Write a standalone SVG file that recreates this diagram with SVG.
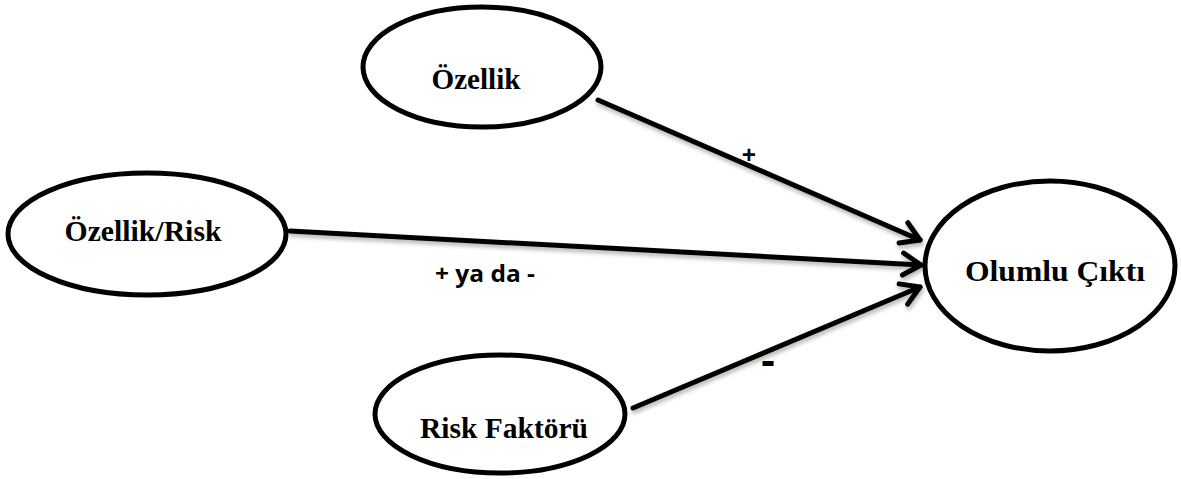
<svg xmlns="http://www.w3.org/2000/svg" width="1181" height="479" viewBox="0 0 1181 479">
<style>
.node ellipse{fill:#fff;stroke:#000;stroke-width:5}
.lbl{font-family:"Liberation Serif","Times New Roman",serif;font-weight:bold;font-size:29px;fill:#000;text-anchor:middle}
.edge{stroke:#000;stroke-width:5;fill:none;stroke-linecap:round}
.elbl{font-family:"Open Sans","Liberation Sans",sans-serif;font-weight:bold;fill:#000}
</style>
<defs>
<filter id="sh" x="-10%" y="-10%" width="130%" height="140%">
<feDropShadow dx="1" dy="3" stdDeviation="2" flood-color="#000" flood-opacity="0.3"/>
</filter>
<marker id="arr" markerUnits="userSpaceOnUse" markerWidth="30" markerHeight="30" refX="22" refY="12" orient="auto" overflow="visible">
<path d="M4,1 L22,12 L4,23" fill="none" stroke="#000" stroke-width="5" stroke-linecap="round" stroke-linejoin="round"/>
</marker>
</defs>
<g id="connectors" filter="url(#sh)">
<line class="edge" x1="598" y1="100" x2="920" y2="240" marker-end="url(#arr)"/>
<line class="edge" x1="290" y1="231" x2="921" y2="265" marker-end="url(#arr)"/>
<line class="edge" x1="633" y1="408" x2="920" y2="287" marker-end="url(#arr)"/>
</g>
<g id="edge-labels">
<text class="elbl" x="749" y="164" font-size="25" text-anchor="middle">+</text>
<text class="elbl" x="435" y="282" font-size="24" textLength="100" lengthAdjust="spacingAndGlyphs">+ ya da -</text>
<text class="elbl" x="768" y="375" font-size="42" text-anchor="middle">-</text>
</g>
<g id="node-ozellik" class="node">
<ellipse cx="482" cy="67" rx="119" ry="60"/>
<text class="lbl" x="476" y="89" textLength="89" lengthAdjust="spacingAndGlyphs">Özellik</text>
</g>
<g id="node-ozellik-risk" class="node">
<ellipse cx="147" cy="234" rx="139" ry="61"/>
<text class="lbl" x="143" y="241" textLength="157" lengthAdjust="spacingAndGlyphs">Özellik/Risk</text>
</g>
<g id="node-olumlu-cikti" class="node">
<ellipse cx="1050" cy="266" rx="125" ry="85"/>
<text class="lbl" x="1055" y="281" textLength="180" lengthAdjust="spacingAndGlyphs">Olumlu Çıktı</text>
</g>
<g id="node-risk-faktoru" class="node">
<ellipse cx="500" cy="414" rx="125" ry="59"/>
<text class="lbl" x="504" y="438" textLength="168" lengthAdjust="spacingAndGlyphs">Risk Faktörü</text>
</g>
</svg>
